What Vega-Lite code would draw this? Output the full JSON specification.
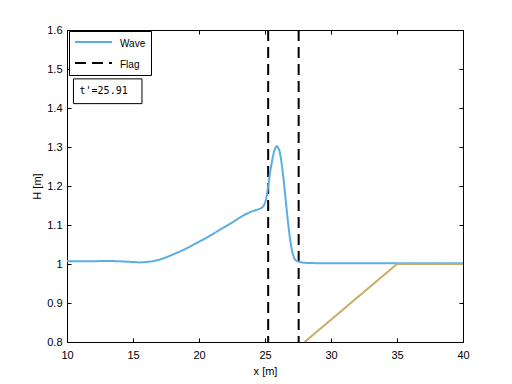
{
  "$schema": "https://vega.github.io/schema/vega-lite/v6.json",
  "width": 396,
  "height": 312,
  "autosize": "none",
  "padding": {"left": 67, "top": 30, "right": 49, "bottom": 42},
  "background": "white",
  "datasets": {
    "wave": [
      {"series": "Wave", "x": 10, "H": 1.007},
      {"series": "Wave", "x": 11, "H": 1.007},
      {"series": "Wave", "x": 12, "H": 1.007},
      {"series": "Wave", "x": 13, "H": 1.008},
      {"series": "Wave", "x": 14, "H": 1.007},
      {"series": "Wave", "x": 15, "H": 1.005},
      {"series": "Wave", "x": 15.5, "H": 1.004},
      {"series": "Wave", "x": 16, "H": 1.005},
      {"series": "Wave", "x": 16.5, "H": 1.007},
      {"series": "Wave", "x": 17, "H": 1.011},
      {"series": "Wave", "x": 17.5, "H": 1.017},
      {"series": "Wave", "x": 18, "H": 1.024},
      {"series": "Wave", "x": 18.5, "H": 1.031},
      {"series": "Wave", "x": 19, "H": 1.039},
      {"series": "Wave", "x": 19.5, "H": 1.048},
      {"series": "Wave", "x": 20, "H": 1.057},
      {"series": "Wave", "x": 20.5, "H": 1.066},
      {"series": "Wave", "x": 21, "H": 1.076},
      {"series": "Wave", "x": 21.5, "H": 1.086},
      {"series": "Wave", "x": 22, "H": 1.096},
      {"series": "Wave", "x": 22.5, "H": 1.106},
      {"series": "Wave", "x": 23, "H": 1.117},
      {"series": "Wave", "x": 23.5, "H": 1.127},
      {"series": "Wave", "x": 24, "H": 1.135},
      {"series": "Wave", "x": 24.4, "H": 1.139},
      {"series": "Wave", "x": 24.7, "H": 1.143},
      {"series": "Wave", "x": 24.9, "H": 1.149},
      {"series": "Wave", "x": 25.0, "H": 1.157},
      {"series": "Wave", "x": 25.1, "H": 1.168},
      {"series": "Wave", "x": 25.2, "H": 1.19},
      {"series": "Wave", "x": 25.3, "H": 1.215},
      {"series": "Wave", "x": 25.4, "H": 1.238},
      {"series": "Wave", "x": 25.5, "H": 1.258},
      {"series": "Wave", "x": 25.6, "H": 1.276},
      {"series": "Wave", "x": 25.7, "H": 1.29},
      {"series": "Wave", "x": 25.8, "H": 1.299},
      {"series": "Wave", "x": 25.9, "H": 1.302},
      {"series": "Wave", "x": 26.0, "H": 1.298},
      {"series": "Wave", "x": 26.1, "H": 1.29},
      {"series": "Wave", "x": 26.2, "H": 1.272},
      {"series": "Wave", "x": 26.3, "H": 1.248},
      {"series": "Wave", "x": 26.4, "H": 1.22},
      {"series": "Wave", "x": 26.5, "H": 1.187},
      {"series": "Wave", "x": 26.6, "H": 1.153},
      {"series": "Wave", "x": 26.7, "H": 1.12},
      {"series": "Wave", "x": 26.8, "H": 1.09},
      {"series": "Wave", "x": 26.9, "H": 1.063},
      {"series": "Wave", "x": 27.0, "H": 1.042},
      {"series": "Wave", "x": 27.1, "H": 1.027},
      {"series": "Wave", "x": 27.2, "H": 1.016},
      {"series": "Wave", "x": 27.3, "H": 1.01},
      {"series": "Wave", "x": 27.5, "H": 1.006},
      {"series": "Wave", "x": 27.8, "H": 1.004},
      {"series": "Wave", "x": 28, "H": 1.003},
      {"series": "Wave", "x": 29, "H": 1.002},
      {"series": "Wave", "x": 30, "H": 1.002},
      {"series": "Wave", "x": 32, "H": 1.002},
      {"series": "Wave", "x": 35, "H": 1.002},
      {"series": "Wave", "x": 40, "H": 1.002}
    ],
    "flag": [
      {"series": "Flag", "id": "f1", "x": 25.24, "H": 1.6},
      {"series": "Flag", "id": "f1", "x": 25.24, "H": 0.8},
      {"series": "Flag", "id": "f2", "x": 27.55, "H": 1.6},
      {"series": "Flag", "id": "f2", "x": 27.55, "H": 0.8}
    ],
    "bed": [
      {"x": 28, "H": 0.8},
      {"x": 35, "H": 1.0},
      {"x": 40, "H": 1.0}
    ],
    "note": [
      {"label": "t'=25.91"}
    ]
  },
  "config": {
    "view": {"stroke": null},
    "font": "Liberation Sans",
    "axis": {
      "domainColor": "black",
      "domainWidth": 1,
      "tickColor": "black",
      "tickSize": -4,
      "tickWidth": 1,
      "labelColor": "black",
      "labelFont": "Liberation Sans",
      "labelFontSize": 11,
      "titleFont": "Liberation Sans",
      "titleFontSize": 11,
      "titleFontWeight": "normal",
      "titleColor": "black",
      "grid": false,
      "labelFlush": false,
      "labelOverlap": false
    },
    "legend": {
      "strokeColor": "black",
      "fillColor": "white",
      "padding": 5,
      "cornerRadius": 0,
      "symbolType": "stroke",
      "symbolSize": 1369,
      "symbolStrokeWidth": 2,
      "labelFont": "Liberation Sans",
      "labelFontSize": 10,
      "labelColor": "black",
      "labelOffset": 7,
      "clipHeight": 12,
      "rowPadding": 8
    }
  },
  "layer": [
    {
      "data": {"name": "flag"},
      "mark": {"type": "line", "strokeWidth": 2, "clip": true},
      "encoding": {
        "x": {
          "field": "x", "type": "quantitative",
          "scale": {"domain": [10, 40], "nice": false, "zero": false},
          "axis": {"orient": "bottom", "values": [10, 15, 20, 25, 30, 35, 40], "format": "d", "title": "x [m]", "labelPadding": 11, "titlePadding": 5}
        },
        "y": {
          "field": "H", "type": "quantitative",
          "scale": {"domain": [0.8, 1.6], "nice": false, "zero": false},
          "axis": {"orient": "left", "values": [0.8, 0.9, 1, 1.1, 1.2, 1.3, 1.4, 1.5, 1.6], "format": "~g", "title": "H [m]", "labelPadding": 9, "titlePadding": 4}
        },
        "color": {
          "field": "series", "type": "nominal",
          "scale": {"domain": ["Wave", "Flag"], "range": ["#5aaee4", "#000000"]},
          "legend": {"title": null, "orient": "none", "legendX": 2, "legendY": 1, "encode": {"labels": {"update": {"dy": {"value": 2}}}}}
        },
        "strokeDash": {
          "field": "series", "type": "nominal",
          "scale": {"domain": ["Wave", "Flag"], "range": [[1, 0], [11, 6]]},
          "legend": {"title": null, "orient": "none", "legendX": 2, "legendY": 1}
        },
        "detail": {"field": "id"},
        "order": {"field": "H", "type": "quantitative", "sort": "descending"}
      }
    },
    {
      "data": {"name": "wave"},
      "mark": {"type": "line", "strokeWidth": 2, "clip": true},
      "encoding": {
        "x": {"field": "x", "type": "quantitative", "axis": null},
        "y": {"field": "H", "type": "quantitative", "axis": null},
        "color": {"field": "series", "type": "nominal", "legend": {"title": null, "orient": "none", "legendX": 2, "legendY": 1}},
        "strokeDash": {"field": "series", "type": "nominal", "legend": {"title": null, "orient": "none", "legendX": 2, "legendY": 1}}
      }
    },
    {
      "data": {"name": "bed"},
      "mark": {"type": "line", "strokeWidth": 2, "color": "#c9ad66", "clip": true},
      "encoding": {
        "x": {"field": "x", "type": "quantitative", "axis": null},
        "y": {"field": "H", "type": "quantitative", "axis": null}
      }
    },
    {
      "data": {"name": "note"},
      "mark": {"type": "rect", "fill": "white", "stroke": "black", "strokeWidth": 1},
      "encoding": {
        "x": {"datum": 10.49, "type": "quantitative", "axis": null},
        "x2": {"datum": 15.68},
        "y": {"datum": 1.4747, "type": "quantitative", "axis": null},
        "y2": {"datum": 1.4112}
      }
    },
    {
      "data": {"name": "note"},
      "mark": {"type": "text", "align": "left", "baseline": "middle", "font": "DejaVu Sans Mono", "fontSize": 10, "color": "black"},
      "encoding": {
        "x": {"datum": 10.95, "type": "quantitative", "axis": null},
        "y": {"datum": 1.443, "type": "quantitative", "axis": null},
        "text": {"field": "label"}
      }
    },
    {
      "data": {"name": "wave"},
      "mark": {"type": "line", "opacity": 0},
      "encoding": {
        "x": {"field": "x", "type": "quantitative", "axis": {"orient": "top", "labels": false, "title": null, "values": [10, 15, 20, 25, 30, 35, 40]}},
        "y": {"field": "H", "type": "quantitative", "axis": {"orient": "right", "labels": false, "title": null, "values": [0.8, 0.9, 1, 1.1, 1.2, 1.3, 1.4, 1.5, 1.6]}}
      }
    }
  ],
  "resolve": {"axis": {"x": "independent", "y": "independent"}}
}
